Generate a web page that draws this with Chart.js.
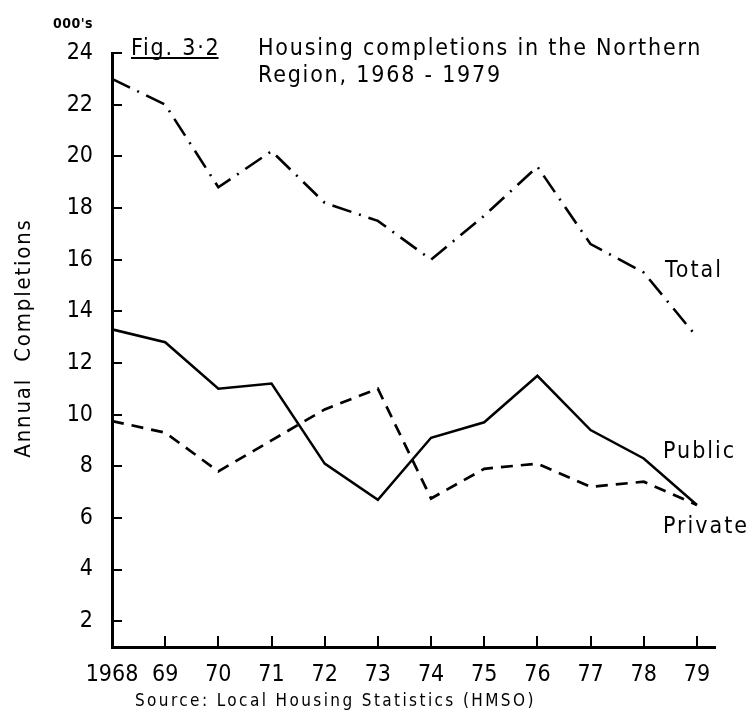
<!DOCTYPE html>
<html>
<head>
<meta charset="utf-8">
<script src="https://cdn.jsdelivr.net/npm/chart.js"></script>
<style>
  body { margin: 0; background: #fff; }
  #wrap { width: 754px; height: 715px; }
</style>
</head>
<body>
<div id="wrap"><canvas id="housingChart"></canvas></div>
<script>
// housing completions, Northern Region (thousands)
const years = [1968, 1969, 1970, 1971, 1972, 1973, 1974, 1975, 1976, 1977, 1978, 1979];
const yearLabels = ['1968', '69', '70', '71', '72', '73', '74', '75', '76', '77', '78', '79'];
const totalCompletions = [23.0, 22.0, 18.8, 20.2, 18.2, 17.5, 16.0, 17.7, 19.6, 16.6, 15.5, 13.0];
const publicCompletions = [13.3, 12.8, 11.0, 11.2, 8.1, 6.7, 9.1, 9.7, 11.5, 9.4, 8.3, 6.5];
const privateCompletions = [9.75, 9.3, 7.8, 9.0, 10.2, 11.0, 6.75, 7.9, 8.1, 7.2, 7.4, 6.5];
const yTicks = [2, 4, 6, 8, 10, 12, 14, 16, 18, 20, 22, 24];

const FONT = '"DejaVu Sans Condensed", "DejaVu Sans", sans-serif';

function toPoints(values) {
    return values.map((v, i) => ({ x: years[i], y: v }));
}

// hand drawn look: ticks point inwards, labels sit in the plot
const annotations = {
    id: 'annotations',
    afterDraw(chart) {
        const ctx = chart.ctx;
        const x = chart.scales.x;
        const y = chart.scales.y;
        const area = chart.chartArea;
        ctx.save();
        ctx.strokeStyle = '#000';
        ctx.lineWidth = 2;
        y.ticks.forEach(t => {
            const py = Math.round(y.getPixelForValue(t.value));
            ctx.beginPath();
            ctx.moveTo(area.left, py);
            ctx.lineTo(area.left + 10, py);
            ctx.stroke();
        });
        x.ticks.forEach(t => {
            const px = Math.round(x.getPixelForValue(t.value));
            ctx.beginPath();
            ctx.moveTo(px, area.bottom);
            ctx.lineTo(px, area.bottom - 11);
            ctx.stroke();
        });

        ctx.fillStyle = '#000';
        ctx.textBaseline = 'alphabetic';
        ctx.textAlign = 'center';
        ctx.font = 'bold 14px ' + FONT;
        ctx.letterSpacing = '0.5px';
        ctx.fillText("000's", 73, 28);

        ctx.textAlign = 'left';
        ctx.font = '23px ' + FONT;
        ctx.letterSpacing = '1.8px';
        ctx.fillText('Fig. 3\u00b72', 131, 55);
        const figW = ctx.measureText('Fig. 3\u00b72').width;
        ctx.fillRect(131, 57, figW - 2, 2);
        ctx.fillText('Housing completions in the Northern', 258, 55);
        ctx.fillText('Region, 1968 - 1979', 258, 82);

        ctx.textBaseline = 'middle';
        ctx.letterSpacing = '2px';
        ctx.fillText('Total', 665, 271);
        ctx.fillText('Public', 663, 452);
        ctx.fillText('Private', 663, 527);

        ctx.font = '17px ' + FONT;
        ctx.letterSpacing = '2.4px';
        ctx.fillText('Source: Local Housing Statistics (HMSO)', 135, 702);

        ctx.translate(24, 338);
        ctx.rotate(-Math.PI / 2);
        ctx.textAlign = 'center';
        ctx.font = '22px ' + FONT;
        ctx.letterSpacing = '1.8px';
        ctx.fillText('Annual  Completions', 0, 0);
        ctx.restore();
    }
};

document.addEventListener('DOMContentLoaded', function () {
    const el = document.getElementById('housingChart');

    const data = {
        datasets: [
            {
                label: 'Total',
                data: toPoints(totalCompletions),
                borderColor: '#000',
                borderWidth: 2.6,
                borderDash: [20, 8, 2, 8],
                pointRadius: 0,
                tension: 0
            },
            {
                label: 'Public',
                data: toPoints(publicCompletions),
                borderColor: '#000',
                borderWidth: 2.5,
                pointRadius: 0,
                tension: 0
            },
            {
                label: 'Private',
                data: toPoints(privateCompletions),
                borderColor: '#000',
                borderWidth: 2.7,
                borderDash: [12, 8],
                pointRadius: 0,
                tension: 0
            }
        ]
    };

    new Chart(el, {
        type: 'line',
        data: data,
        options: {
            responsive: true,
            maintainAspectRatio: false,
            animation: false,
            layout: { padding: { top: 53, right: 39, left: 0, bottom: 0 } },
            plugins: {
                legend: { display: false },
                tooltip: { enabled: false }
            },
            scales: {
                x: {
                    type: 'linear',
                    min: 1968,
                    max: 1979.34,
                    afterBuildTicks: s => { s.ticks = years.map(v => ({ value: v })); },
                    afterFit: s => { s.height = 68; },
                    grid: { display: false, drawTicks: false },
                    border: { display: true, color: '#000', width: 3 },
                    ticks: {
                        autoSkip: false,
                        maxRotation: 0,
                        padding: 14,
                        color: '#000',
                        font: { family: FONT, size: 23 },
                        callback: (v, i) => yearLabels[i]
                    }
                },
                y: {
                    min: 1,
                    max: 24,
                    afterBuildTicks: s => { s.ticks = yTicks.map(v => ({ value: v })); },
                    afterFit: s => { s.width = 112; },
                    grid: { display: false, drawTicks: false },
                    border: { display: true, color: '#000', width: 3 },
                    ticks: {
                        padding: 19,
                        color: '#000',
                        font: { family: FONT, size: 23 }
                    }
                }
            }
        },
        plugins: [annotations]
    });
});
</script>
</body>
</html>
